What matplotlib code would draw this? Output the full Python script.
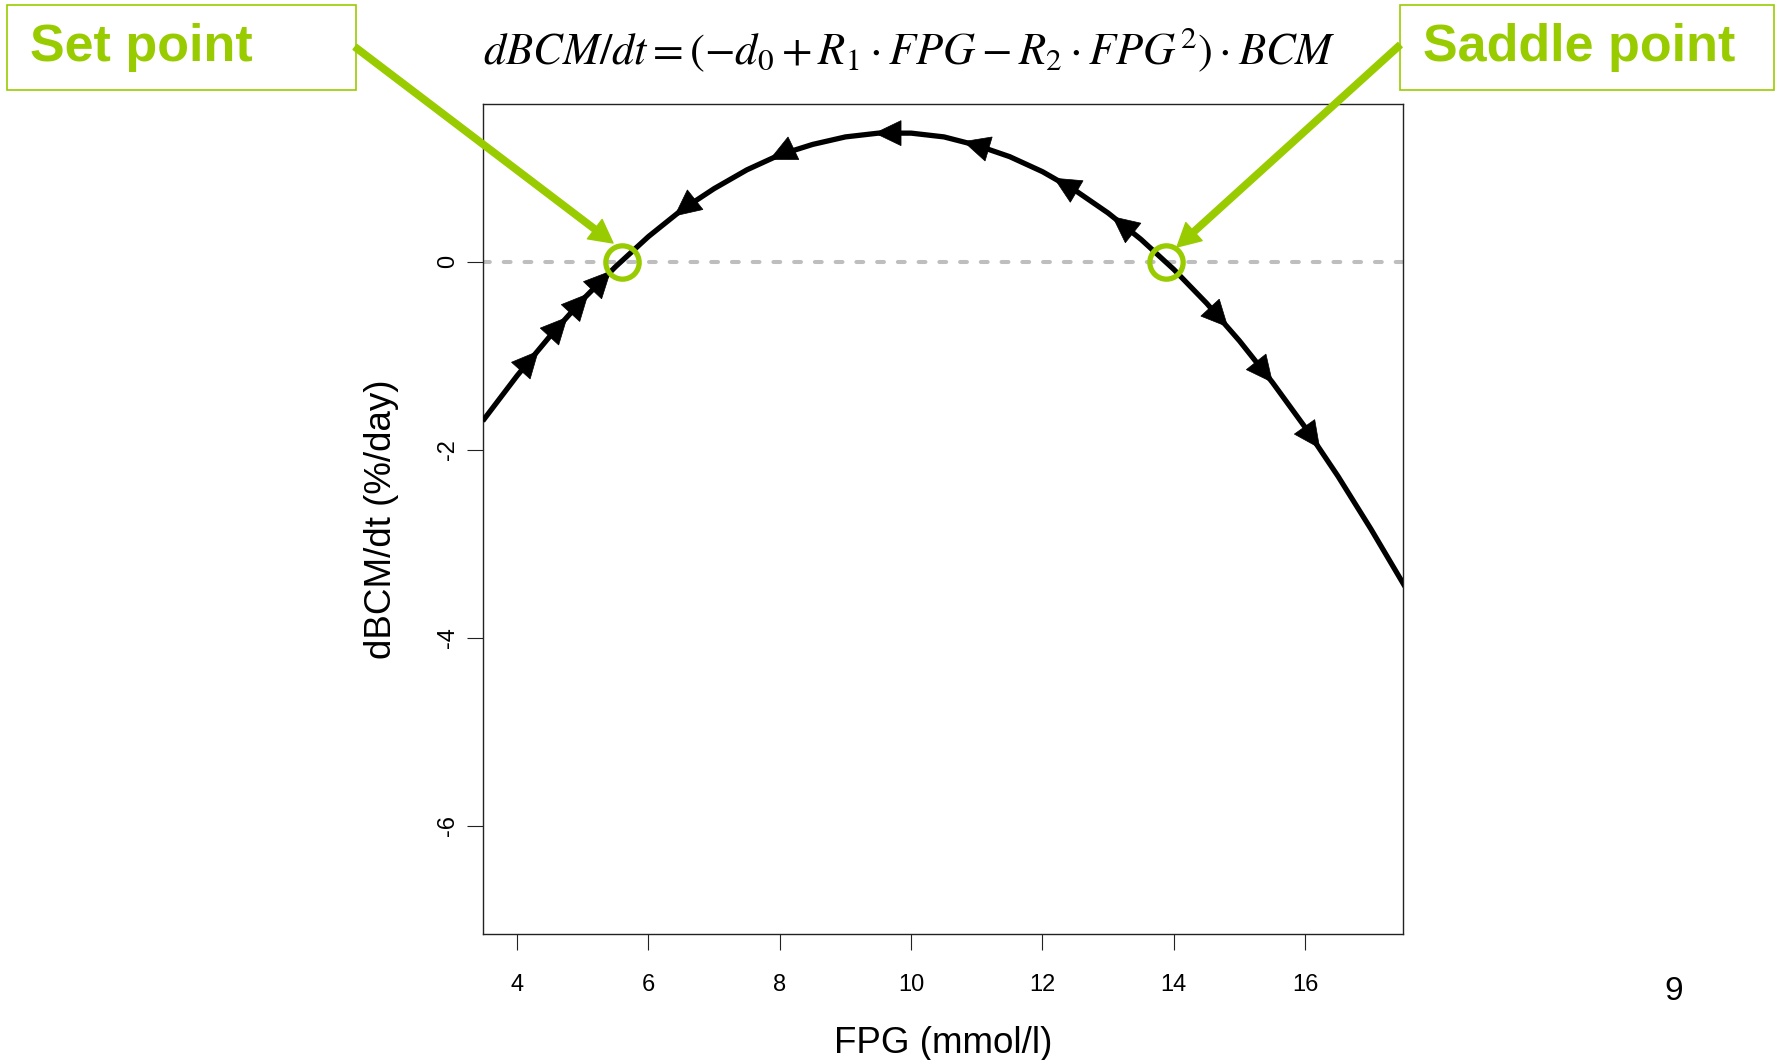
import numpy as np
import matplotlib
matplotlib.use("Agg")
import matplotlib.pyplot as plt
from matplotlib.patches import Polygon, Rectangle

plt.rcParams["font.family"] = ["Liberation Sans", "DejaVu Sans"]
plt.rcParams["mathtext.fontset"] = "stix"

W, H = 1777, 1060
GREEN = "#99cc00"

# ---- data ----
fpg = [3.5, 4.0, 4.5, 5.0, 5.5, 6.0, 6.5, 7.0, 7.5, 8.0, 8.5, 9.0, 9.5, 10.0,
       10.5, 11.0, 11.5, 12.0, 12.5, 13.0, 13.5, 14.0, 14.5, 15.0, 15.5, 16.0,
       16.5, 17.0, 17.5]
dbcm = [-1.67, -1.21, -0.79, -0.40, -0.05, 0.27, 0.55, 0.78, 0.98, 1.14, 1.25,
        1.33, 1.37, 1.37, 1.33, 1.24, 1.12, 0.96, 0.76, 0.52, 0.24, -0.08,
        -0.44, -0.84, -1.28, -1.76, -2.28, -2.84, -3.43]

# trajectory arrows (tip positions) and direction of motion along FPG
arrow_right_x = [4.32, 4.76, 5.08, 5.42, 14.82, 15.50, 16.22]
arrow_right_y = [-0.95, -0.59, -0.34, -0.10, -0.69, -1.28, -1.98]
arrow_left_x = [6.40, 7.85, 9.45, 10.80, 12.18, 13.07]
arrow_left_y = [0.49, 1.09, 1.37, 1.28, 0.89, 0.48]

set_point_x, set_point_y = 5.60, 0.0
saddle_point_x, saddle_point_y = 13.88, 0.0

xticks = [4, 6, 8, 10, 12, 14, 16]
yticks = [0, -2, -4, -6]

fig = plt.figure(figsize=(W / 100, H / 100), dpi=100)
ax = fig.add_axes([483 / W, 1 - 934 / H, 920 / W, 830 / H])
ax.set_xlim(3.48, 17.49)
ax.set_ylim(-7.15, 1.68)

ax.axhline(0, color="#bebebe", lw=2.9, linestyle=(0, (1.7, 3.45)),
           dash_capstyle="round", zorder=1)
ax.plot(fpg, dbcm, color="black", lw=3.8, solid_joinstyle="round", zorder=3)

xs = np.array(fpg)
ys = np.array(dbcm)


def head(xt, yt, direction):
    x0 = xt - direction * 0.15
    y0 = np.interp(x0, xs, ys)
    p_tip = ax.transData.transform((xt, yt))
    p_back = ax.transData.transform((x0, y0))
    u = p_tip - p_back
    u = u / np.hypot(*u)
    n = np.array([-u[1], u[0]])
    L, Wd = 26, 25
    base = p_tip - L * u
    verts = np.array([p_tip, base + n * Wd / 2, base - n * Wd / 2])
    vd = ax.transData.inverted().transform(verts)
    ax.add_patch(Polygon(vd, closed=True, fc="black", ec="black", lw=0.5,
                         zorder=4))


for x, y in zip(arrow_right_x, arrow_right_y):
    head(x, y, +1)
for x, y in zip(arrow_left_x, arrow_left_y):
    head(x, y, -1)

ax.plot([set_point_x, saddle_point_x], [set_point_y, saddle_point_y],
        linestyle="none", marker="o", ms=24, mfc="none", mec=GREEN,
        mew=3.8, zorder=5)

ax.set_xticks(xticks)
ax.set_xticklabels([str(t) for t in xticks])
ax.set_yticks(yticks)
ax.set_yticklabels([str(t) for t in yticks])
ax.tick_params(axis="both", direction="out", length=11.5, width=0.8,
               labelsize=17, color="#222222")
ax.tick_params(axis="x", pad=17)
ax.tick_params(axis="y", pad=6, labelrotation=90)
for lab in ax.get_yticklabels():
    lab.set_va("center")
for s in ax.spines.values():
    s.set_linewidth(1.0)
    s.set_color("#222222")

ax.set_xlabel("FPG (mmol/l)", fontsize=26.5, labelpad=22)
ax.set_ylabel("dBCM/dt (%/day)", fontsize=26.5, labelpad=27)


def fx(x):
    return x / W


def fy(y):
    return 1 - y / H


# equation title
fig.text(fx(909), fy(50),
         r"$dBCM/dt=(-d_0+R_1\cdot FPG-R_2\cdot FPG^2)\cdot BCM$",
         fontsize=32, ha="center", va="center")

# annotation boxes
fig.add_artist(Rectangle((fx(7), fy(90)), (356 - 7) / W, (90 - 5) / H,
                         transform=fig.transFigure, fill=False, ec=GREEN,
                         lw=1.2))
fig.text(fx(30), fy(47), "Set point", fontsize=37.5, fontweight="bold",
         color=GREEN, ha="left", va="center")
fig.add_artist(Rectangle((fx(1400), fy(90)), (1774 - 1400) / W, (90 - 5) / H,
                         transform=fig.transFigure, fill=False, ec=GREEN,
                         lw=1.2))
fig.text(fx(1423), fy(47), "Saddle point", fontsize=37.5, fontweight="bold",
         color=GREEN, ha="left", va="center")

# green pointer arrows
arrow_kw = dict(width=4.6, headwidth=17.5, headlength=16.5, color=GREEN,
                shrink=0)
ax.annotate("", xy=(613, H - 243), xycoords="figure pixels",
            xytext=(355, H - 47), textcoords="figure pixels",
            arrowprops=arrow_kw, annotation_clip=False)
ax.annotate("", xy=(1177, H - 247), xycoords="figure pixels",
            xytext=(1400, H - 45), textcoords="figure pixels",
            arrowprops=arrow_kw, annotation_clip=False)

# page number
fig.text(fx(1674), fy(992), "9", fontsize=24, ha="center", va="center")

fig.savefig("out.png", dpi=100)
